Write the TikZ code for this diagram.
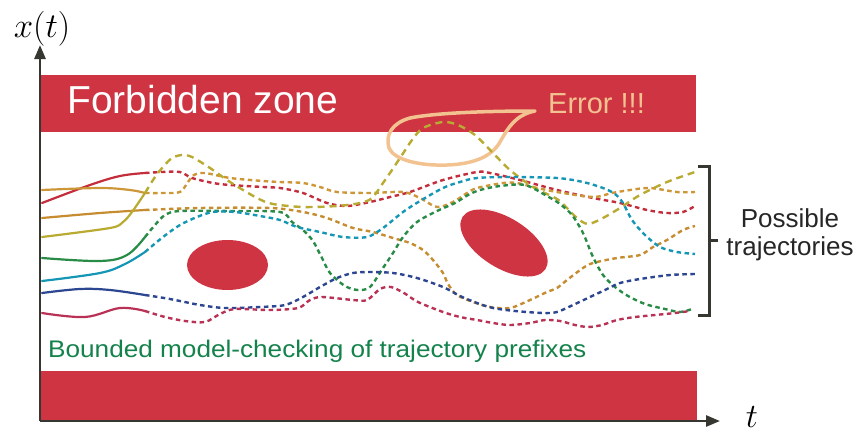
\documentclass[tikz,border=0pt]{standalone}
\usepackage{fontspec}
\newfontfamily\arial{Liberation Sans}
\usetikzlibrary{arrows.meta}
\definecolor{barred}{RGB}{207,52,66}
\definecolor{cR}{RGB}{195,45,60}
\definecolor{cG}{RGB}{205,150,55}
\definecolor{cGt}{RGB}{198,140,48}
\definecolor{cY}{RGB}{185,170,50}
\definecolor{cGr}{RGB}{40,140,70}
\definecolor{cT}{RGB}{20,150,180}
\definecolor{cN}{RGB}{45,70,145}
\definecolor{cC}{RGB}{185,50,85}
\definecolor{peach}{RGB}{242,195,145}
\definecolor{txtgreen}{RGB}{20,130,75}
\definecolor{axiscol}{RGB}{55,55,50}
\tikzset{
  solidtr/.style={line width=2.2pt, line cap=round},
  dottr/.style={line width=2.4pt, dash pattern=on 4.5pt off 3.5pt},
  longtr/.style={line width=2.4pt, dash pattern=on 7pt off 5pt},
  axisline/.style={line width=2.6pt, draw=axiscol, -{Triangle[length=14pt,width=11pt]}},
  bracketline/.style={line width=3pt, draw=axiscol},
  zone/.style={fill=barred},
  lbl/.style={inner sep=0pt, font=\arial},
  mathlbl/.style={inner sep=0pt, font=\fontsize{24.88}{30}\selectfont}
}
\begin{document}
\begin{tikzpicture}[x=1pt,y=-1pt]
\useasboundingbox (0,0) rectangle (859,431);
% zones
\fill[zone] (40,75) rectangle (696,132);
\fill[zone] (40,371) rectangle (697,420);
\fill[barred] (227.5,265) ellipse [x radius=40.5pt, y radius=25pt];
\begin{scope}[shift={(504,243)}, rotate=-32]
  \fill[barred] (0,0) ellipse [x radius=49pt, y radius=25pt];
\end{scope}
% axes
\coordinate (O) at (40,421);
\coordinate (Ytip) at (40,45);
\coordinate (Xtip) at (720,421);
\draw[axisline] (O) -- (Ytip);
\draw[axisline] (O) -- (Xtip);
\node[mathlbl] (xt) at (42,29) {\scalebox{1.4}{$x(t)$}};
\node[mathlbl] (tl) at (752,417) {\scalebox{1.37}{$t$}};
% texts
\node[lbl, anchor=base west, text=white, font=\arial\fontsize{39}{45}\selectfont] (fz) at (67,113) {Forbidden zone};
\node[lbl, anchor=base west, text=peach, font=\arial\fontsize{29}{34}\selectfont] (err) at (548,113) {Error !!!};
\node[lbl, anchor=base west, text=txtgreen, font=\arial\fontsize{24}{28}\selectfont] (bmc) at (48,357) {\scalebox{1.09}[1]{Bounded model-checking of trajectory prefixes}};
\node[lbl, align=center, text=black!85, font=\arial\fontsize{26}{28}\selectfont] (pt) at (790,235) {Possible\\trajectories};
% bracket
\draw[bracketline] (698,166) -- (709,166) -- (709,315) -- (698,315);
\draw[bracketline] (709,240) -- (718,240);
% error blob
\draw[peach, line width=3.5pt, line join=round] (535,111) .. controls (500,111) and (440,112) .. (410,118)
  .. controls (392,123) and (385,135) .. (389,148)
  .. controls (394,160) and (420,166) .. (447,165)
  .. controls (475,164) and (492,156) .. (500,142)
  .. controls (508,128) and (515,115) .. cycle;
% ---- trajectories: solid prefixes ----
\draw[solidtr, cR] plot[smooth, tension=0.6] coordinates {(42,203) (90,185) (120,176) (145,173)};
\draw[solidtr, cG] plot[smooth, tension=0.6] coordinates {(42,190) (100,188) (130,190) (145,193)};
\draw[solidtr, cGt] plot[smooth, tension=0.6] coordinates {(42,218) (100,213) (145,210)};
\draw[solidtr, cY] plot[smooth, tension=0.5] coordinates {(42,237) (110,228) (123,222) (132,212) (145,193)};
\draw[solidtr, cGr] plot[smooth, tension=0.6] coordinates {(42,258) (100,261) (127,255) (145,237)};
\draw[solidtr, cT] plot[smooth, tension=0.6] coordinates {(42,281) (100,273) (125,264) (145,252)};
\draw[solidtr, cN] plot[smooth, tension=0.6] coordinates {(42,293) (80,289) (110,290) (145,295)};
\draw[solidtr, cC] plot[smooth, tension=0.6] coordinates {(42,313) (85,317) (120,308) (145,311)};
% ---- trajectories: dotted continuations ----
\draw[dottr, cR] plot[smooth, tension=0.5] coordinates {(145,173) (162,172) (180,172) (192,178) (213,183) (230,185) (263,187) (280,188) (303,193) (327,203) (347,206) (370,202) (390,197) (410,192) (443,180) (477,172) (490,173) (520,180) (557,190) (593,198) (620,203) (647,210) (667,213) (683,212) (695,206)};
\draw[dottr, cG] plot[smooth, tension=0.5] coordinates {(145,193) (163,193) (180,192) (188,182) (194,175) (205,173) (230,178) (263,181) (280,182) (303,183) (320,187) (337,192) (370,193) (403,192) (420,198) (437,207) (453,202) (467,193) (477,188) (503,183) (517,183) (533,187) (557,192) (593,197) (612,193) (630,190) (650,188) (677,192) (695,192)};
\draw[dottr, cGt] plot[smooth, tension=0.5] coordinates {(145,210) (200,208) (270,208) (303,212) (327,218) (353,228) (373,232) (393,238) (410,243) (423,250) (433,260) (443,273) (448,284) (457,295) (473,302) (490,307) (510,308) (530,300) (547,292) (557,288) (567,280) (583,268) (593,263) (617,258) (640,255) (653,247) (667,240) (683,230) (695,226)};
\draw[longtr, cY] plot[smooth, tension=0.5] coordinates {(145,193) (155,177) (163,167) (172,158) (182,155) (192,157) (210,168) (230,182) (257,198) (273,204) (303,207) (337,206) (360,203) (372,198) (383,183) (392,170) (402,155) (412,140) (423,128) (443,122) (458,125) (475,135) (493,153) (510,170) (533,187) (557,199) (567,208) (577,218) (588,224) (603,218) (620,208) (640,195) (667,182) (695,172)};
\draw[dottr, cGr] plot[smooth, tension=0.5] coordinates {(145,237) (155,225) (165,215) (180,211) (230,211) (280,212) (292,222) (303,230) (313,241) (322,258) (330,273) (345,286) (358,290) (370,287) (383,268) (393,253) (403,237) (417,222) (437,211) (455,203) (468,195) (480,190) (500,186) (525,185) (547,196) (560,204) (572,215) (583,233) (593,257) (603,275) (615,287) (628,296) (645,304) (665,309) (680,312) (692,309)};
\draw[dottr, cT] plot[smooth, tension=0.5] coordinates {(145,252) (163,237) (180,225) (197,217) (213,212) (235,212) (260,216) (280,220) (297,227) (320,232) (343,237) (367,237) (383,228) (403,212) (420,201) (443,188) (460,182) (477,178) (510,177) (557,178) (583,182) (603,188) (615,194) (623,203) (632,220) (645,235) (660,247) (677,252) (695,254)};
\draw[dottr, cN] plot[smooth, tension=0.5] coordinates {(145,295) (170,299) (200,305) (225,308) (260,307) (285,305) (303,297) (320,287) (337,278) (353,273) (370,272) (393,273) (417,278) (443,287) (460,296) (477,303) (493,308) (515,311) (543,313) (557,312) (573,305) (590,297) (605,290) (620,283) (640,279) (670,275) (695,274)};
\draw[dottr, cC] plot[smooth, tension=0.5] coordinates {(145,311) (165,317) (185,321) (205,322) (220,314) (235,309) (270,310) (298,308) (310,300) (322,297) (353,300) (367,300) (380,289) (391,287) (404,293) (418,302) (443,312) (460,317) (477,320) (493,323) (510,325) (530,323) (545,320) (560,321) (575,325) (588,327) (602,325) (617,320) (635,317) (655,315) (675,313) (690,311)};
\end{tikzpicture}
\end{document}
